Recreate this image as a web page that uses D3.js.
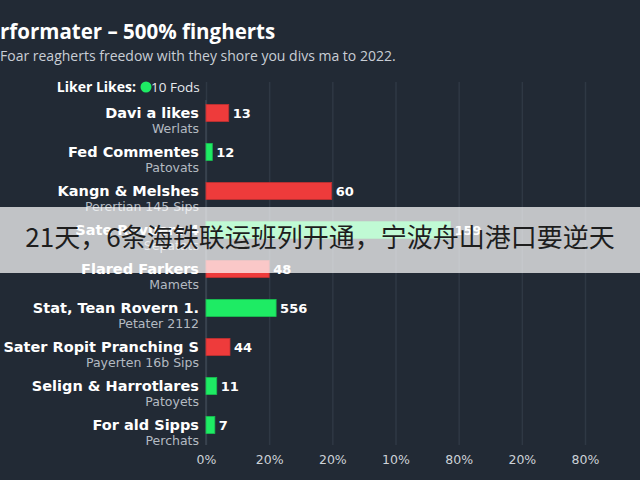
<!DOCTYPE html>
<html>
<head>
<meta charset="utf-8">
<script src="https://cdn.jsdelivr.net/npm/d3@7"></script>
<style>
  html, body { margin: 0; padding: 0; background: #222a35; }
  svg { display: block; }
</style>
</head>
<body>
<div id="chart"></div>
<script>
// chart data
var categories = ["Davi a likes", "Fed Commentes", "Kangn & Melshes", "Sate Rovuers 4", "Flared Farkers",
  "Stat, Tean Rovern 1.", "Sater Ropit Pranching S", "Selign & Harrotlares", "For ald Sipps"];
var subLabels = ["Werlats", "Patovats", "Perertian 145 Sips", "Sepatats", "Mamets",
  "Petater 2112", "Payerten 16b Sips", "Patoyets", "Perchats"];
var barValues = [3.6, 1.0, 19.9, 38.7, 10.0, 11.1, 3.8, 1.7, 1.4];
var valueLabels = ["13", "12", "60", "159", "48", "556", "44", "11", "7"];
var barKinds = ["red", "green", "red", "green", "red", "green", "red", "green", "green"];
var tickValues = [0, 10, 20, 30, 40, 50, 60];
var tickLabels = ["0%", "20%", "20%", "10%", "80%", "20%", "80%"];

var svgWidth = 640;
var svgHeight = 480;

var colors = { red: "#ee3b3b", green: "#1eeb64" };
var wide = "DejaVu Sans";

var svg = d3.select("#chart")
  .append("svg")
  .attr("width", svgWidth)
  .attr("height", svgHeight);

svg.append("rect")
  .attr("width", svgWidth)
  .attr("height", svgHeight)
  .attr("fill", "#222a35");

// scales
var xScale = d3.scaleLinear()
  .domain([0, 60])
  .range([206, 585]);

var yScale = d3.scaleBand()
  .domain(categories)
  .range([93.5, 444.5])
  .paddingInner(0.56)
  .paddingOuter(0.28);

// grid lines
var grid = d3.axisBottom(xScale)
  .tickValues(tickValues)
  .tickSize(-(445 - 82))
  .tickFormat("");
svg.append("g")
  .attr("transform", "translate(0,445)")
  .call(grid)
  .call(g => g.select(".domain").remove())
  .call(g => g.selectAll("line").attr("stroke", "#2f3844").attr("stroke-width", 1.5));

// zero line
svg.append("line")
  .attr("x1", xScale(0)).attr("x2", xScale(0))
  .attr("y1", 100).attr("y2", 445)
  .attr("stroke", "#3c4652")
  .attr("stroke-width", 1.5);

// x axis labels
var xAxis = d3.axisBottom(xScale)
  .tickValues(tickValues)
  .tickSize(0)
  .tickPadding(9)
  .tickFormat((d, i) => tickLabels[i]);
svg.append("g")
  .attr("transform", "translate(0,446)")
  .call(xAxis)
  .call(g => g.select(".domain").remove())
  .call(g => g.selectAll("text")
    .attr("fill", "#cdd2d8")
    .attr("font-family", wide)
    .attr("font-size", "12.5px"));

// title and subtitle (the reference crops them at the left edge)
svg.append("text")
  .attr("x", 0)
  .attr("y", 39)
  .attr("fill", "#ffffff")
  .attr("font-family", "Open Sans")
  .attr("font-weight", "bold")
  .attr("font-size", "20.5px")
  .text("rformater – 500% fingherts");

svg.append("text")
  .attr("x", 0)
  .attr("y", 61)
  .attr("fill", "#c9ced5")
  .attr("font-family", "Open Sans")
  .attr("font-size", "14px")
  .text("Foar reagherts freedow with they shore you divs ma to 2022.");

// legend
svg.append("text")
  .attr("x", 136).attr("y", 87)
  .attr("dy", "0.35em")
  .attr("text-anchor", "end")
  .attr("fill", "#ffffff")
  .attr("font-family", "Open Sans")
  .attr("font-weight", "bold")
  .attr("font-size", "14px")
  .text("Liker Likes:");
svg.append("circle")
  .attr("cx", 146).attr("cy", 87)
  .attr("r", 5.5)
  .attr("fill", colors.green);
svg.append("text")
  .attr("x", 151).attr("y", 87)
  .attr("dy", "0.35em")
  .attr("fill", "#e6e9ed")
  .attr("font-family", "Open Sans")
  .attr("font-size", "13.5px")
  .text("10 Fods");

// bars
var rows = categories.map((c, i) => ({
  name: c, sub: subLabels[i], value: barValues[i], label: valueLabels[i], kind: barKinds[i]
}));

svg.selectAll(".bar")
  .data(rows)
  .enter()
  .append("rect")
  .attr("class", "bar")
  .attr("x", xScale(0))
  .attr("y", d => yScale(d.name))
  .attr("width", d => xScale(d.value) - xScale(0))
  .attr("height", yScale.bandwidth())
  .attr("fill", d => colors[d.kind])
  .attr("stroke", d => d3.color(colors[d.kind]).darker(0.6))
  .attr("stroke-width", 0.8);

svg.selectAll(".val")
  .data(rows)
  .enter()
  .append("text")
  .attr("class", "val")
  .attr("x", d => xScale(d.value) + 4)
  .attr("y", d => yScale(d.name) + yScale.bandwidth() / 2)
  .attr("dy", "0.36em")
  .attr("fill", "#ffffff")
  .attr("font-family", wide)
  .attr("font-weight", "bold")
  .attr("font-size", "13px")
  .text(d => d.label);

svg.selectAll(".cat")
  .data(rows)
  .enter()
  .append("text")
  .attr("class", "cat")
  .attr("x", 199)
  .attr("y", d => yScale(d.name) + yScale.bandwidth() / 2)
  .attr("dy", "0.36em")
  .attr("text-anchor", "end")
  .attr("fill", "#ffffff")
  .attr("font-family", wide)
  .attr("font-weight", "bold")
  .attr("font-size", "14.5px")
  .text(d => d.name);

svg.selectAll(".sub")
  .data(rows)
  .enter()
  .append("text")
  .attr("class", "sub")
  .attr("x", 199)
  .attr("y", d => yScale(d.name) + yScale.bandwidth() / 2 + 15)
  .attr("dy", "0.36em")
  .attr("text-anchor", "end")
  .attr("fill", "#b4bac2")
  .attr("font-family", wide)
  .attr("font-size", "12.5px")
  .text(d => d.sub);

// caption banner laid over the chart
svg.append("rect")
  .attr("x", 0).attr("y", 207)
  .attr("width", svgWidth).attr("height", 66)
  .attr("fill", "#ffffff")
  .attr("opacity", 0.72);
svg.append("text")
  .attr("x", 320).attr("y", 238)
  .attr("dy", "0.36em")
  .attr("text-anchor", "middle")
  .attr("fill", "#1e1e1e")
  .attr("font-family", "Noto Sans CJK SC")
  .attr("font-size", "26px")
  .text("21天，6条海铁联运班列开通，宁波舟山港口要逆天");
</script>
</body>
</html>
